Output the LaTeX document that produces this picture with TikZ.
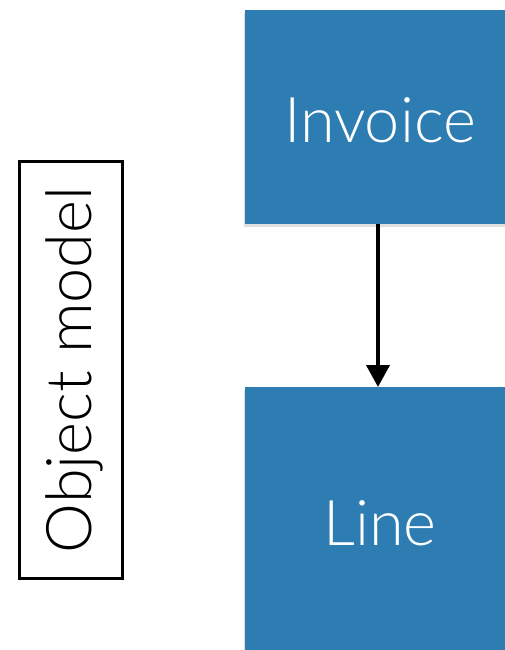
\documentclass[tikz,border=0pt]{standalone}
\usepackage{fontspec}
\setmainfont{Lato}[UprightFont=* Light]
\usetikzlibrary{arrows.meta,shadows}
\definecolor{boxblue}{RGB}{46,125,178}
\tikzset{
  entity/.style={fill=boxblue, draw=none, inner sep=0pt,
    drop shadow={shadow xshift=-1pt, shadow yshift=-3pt, opacity=0.25}},
  bigtext/.style={text=white, font=\fontsize{63}{68}\selectfont},
}
\begin{document}
\begin{tikzpicture}[x=1pt,y=-1pt]
\useasboundingbox (0,0) rectangle (505,650);
\begin{scope}
\clip (0,0) rectangle (505,650);
\node[entity, minimum width=265pt, minimum height=214pt, anchor=north west] (inv) at (245,10) {};
\node[entity, minimum width=265pt, minimum height=270pt, anchor=north west] (line) at (245,387) {};
\end{scope}
\node[bigtext] (invt) at (380,120) {Invoice};
\node[bigtext] (linet) at (380,523) {Line};
\coordinate (a) at (378,224);
\coordinate (b) at (378,387);
\draw[line width=3.8pt, -{Triangle[length=22pt,width=23pt]}] (a) -- (b);
\node[draw, line width=3.5pt, rotate=90, minimum width=417pt, minimum height=103pt, inner sep=0pt,
  font=\fontsize{63}{68}\selectfont, text depth=4pt] (om) at (71,370) {Object model};
\end{tikzpicture}
\end{document}
